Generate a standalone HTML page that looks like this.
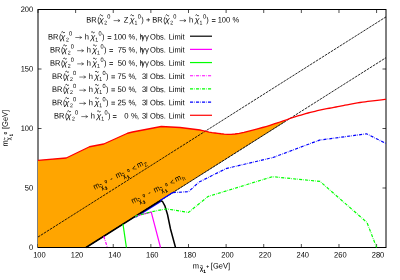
<!DOCTYPE html>
<html><head><meta charset="utf-8"><style>
html,body{margin:0;padding:0;background:#fff;}
body{width:400px;height:280px;position:relative;overflow:hidden;font-family:"Liberation Sans",sans-serif;}
</style></head><body>
<svg width="400" height="280" viewBox="0 0 400 280" font-family="Liberation Sans, sans-serif" style="position:absolute;left:0;top:0;will-change:transform">
<rect x="38.00" y="9.50" width="348.00" height="238.00" fill="none" stroke="#000" stroke-width="1"/>
<line x1="38.00" y1="247.50" x2="38.00" y2="244.00" stroke="#000" stroke-width="0.7"/>
<line x1="38.00" y1="9.50" x2="38.00" y2="13.00" stroke="#000" stroke-width="0.7"/>
<line x1="75.62" y1="247.50" x2="75.62" y2="244.00" stroke="#000" stroke-width="0.7"/>
<line x1="75.62" y1="9.50" x2="75.62" y2="13.00" stroke="#000" stroke-width="0.7"/>
<line x1="113.24" y1="247.50" x2="113.24" y2="244.00" stroke="#000" stroke-width="0.7"/>
<line x1="113.24" y1="9.50" x2="113.24" y2="13.00" stroke="#000" stroke-width="0.7"/>
<line x1="150.86" y1="247.50" x2="150.86" y2="244.00" stroke="#000" stroke-width="0.7"/>
<line x1="150.86" y1="9.50" x2="150.86" y2="13.00" stroke="#000" stroke-width="0.7"/>
<line x1="188.49" y1="247.50" x2="188.49" y2="244.00" stroke="#000" stroke-width="0.7"/>
<line x1="188.49" y1="9.50" x2="188.49" y2="13.00" stroke="#000" stroke-width="0.7"/>
<line x1="226.11" y1="247.50" x2="226.11" y2="244.00" stroke="#000" stroke-width="0.7"/>
<line x1="226.11" y1="9.50" x2="226.11" y2="13.00" stroke="#000" stroke-width="0.7"/>
<line x1="263.73" y1="247.50" x2="263.73" y2="244.00" stroke="#000" stroke-width="0.7"/>
<line x1="263.73" y1="9.50" x2="263.73" y2="13.00" stroke="#000" stroke-width="0.7"/>
<line x1="301.35" y1="247.50" x2="301.35" y2="244.00" stroke="#000" stroke-width="0.7"/>
<line x1="301.35" y1="9.50" x2="301.35" y2="13.00" stroke="#000" stroke-width="0.7"/>
<line x1="338.97" y1="247.50" x2="338.97" y2="244.00" stroke="#000" stroke-width="0.7"/>
<line x1="338.97" y1="9.50" x2="338.97" y2="13.00" stroke="#000" stroke-width="0.7"/>
<line x1="376.59" y1="247.50" x2="376.59" y2="244.00" stroke="#000" stroke-width="0.7"/>
<line x1="376.59" y1="9.50" x2="376.59" y2="13.00" stroke="#000" stroke-width="0.7"/>
<line x1="38.00" y1="247.50" x2="41.50" y2="247.50" stroke="#000" stroke-width="0.7"/>
<line x1="386.00" y1="247.50" x2="382.50" y2="247.50" stroke="#000" stroke-width="0.7"/>
<line x1="38.00" y1="188.00" x2="41.50" y2="188.00" stroke="#000" stroke-width="0.7"/>
<line x1="386.00" y1="188.00" x2="382.50" y2="188.00" stroke="#000" stroke-width="0.7"/>
<line x1="38.00" y1="128.50" x2="41.50" y2="128.50" stroke="#000" stroke-width="0.7"/>
<line x1="386.00" y1="128.50" x2="382.50" y2="128.50" stroke="#000" stroke-width="0.7"/>
<line x1="38.00" y1="69.00" x2="41.50" y2="69.00" stroke="#000" stroke-width="0.7"/>
<line x1="386.00" y1="69.00" x2="382.50" y2="69.00" stroke="#000" stroke-width="0.7"/>
<line x1="38.00" y1="9.50" x2="41.50" y2="9.50" stroke="#000" stroke-width="0.7"/>
<line x1="386.00" y1="9.50" x2="382.50" y2="9.50" stroke="#000" stroke-width="0.7"/>
<polygon points="38.00,247.00 38.00,160.30 66.25,158.00 89.50,146.75 103.75,144.00 127.50,133.25 132.50,132.00 161.25,126.50 180.00,127.50 200.00,130.00 201.57,130.35 203.70,130.85 206.25,131.44 209.07,132.04 212.04,132.58 215.00,133.00 217.96,133.37 221.02,133.76 224.22,134.09 227.59,134.30 231.17,134.29 235.00,134.00 239.27,133.34 243.98,132.35 248.91,131.16 253.80,129.87 258.41,128.61 262.50,127.50 266.04,126.52 269.20,125.57 272.09,124.64 274.80,123.74 277.40,122.86 280.00,122.00 282.54,121.15 284.93,120.33 285.00,121.59 86.77,247.00" fill="#ffa500" stroke="none"/>
<polyline points="85.97,247.50 285.00,121.59" fill="none" stroke="#000" stroke-width="0.4"/>
<polyline points="38.00,237.03 386.00,16.88" fill="none" stroke="#000" stroke-width="0.85" stroke-dasharray="2.6,0.9"/>
<polyline points="85.97,247.50 386.00,57.70" fill="none" stroke="#000" stroke-width="0.85" stroke-dasharray="2.6,0.9"/>
<polyline points="135.50,217.28 160.70,201.34" fill="none" stroke="#00f" stroke-width="1.3"/>
<polyline points="85.97,247.50 160.20,200.54 162.50,201.50 165.00,206.20 167.50,214.50 170.50,229.00 173.75,241.00 175.50,247.50" fill="none" stroke="#000" stroke-width="1.5" stroke-linejoin="round"/>
<polyline points="135.00,216.25 151.25,212.20 160.50,247.50" fill="none" stroke="#f0f" stroke-width="1.2" stroke-linejoin="round"/>
<polyline points="123.00,224.07 126.40,247.50" fill="none" stroke="#0f0" stroke-width="1.2" stroke-linejoin="round"/>
<polyline points="103.75,236.25 107.40,247.50" fill="none" stroke="#f0f" stroke-width="1.2" stroke-dasharray="3.1,1.15,0.6,1.15"/>
<polyline points="135.00,216.25 151.50,211.75 166.50,208.90 188.50,212.40 208.00,196.50 272.50,176.70 320.00,181.40 367.00,222.50 376.60,247.50" fill="none" stroke="#0f0" stroke-width="1.2" stroke-dasharray="3.1,1.15,0.6,1.15"/>
<polyline points="160.20,200.54 172.80,192.57" fill="none" stroke="#00f" stroke-width="1.3"/>
<polyline points="172.80,192.57 188.50,191.70 199.00,182.10 226.00,168.60 273.00,157.50 319.50,140.10 366.60,133.80 385.80,143.40" fill="none" stroke="#00f" stroke-width="1.2" stroke-dasharray="3.1,1.15,0.6,1.15"/>
<polyline points="38.00,160.30 66.25,158.00 89.50,146.75 103.75,144.00 127.50,133.25 132.50,132.00 161.25,126.50 180.00,127.50 200.00,130.00 201.57,130.35 203.70,130.85 206.25,131.44 209.07,132.04 212.04,132.58 215.00,133.00 217.96,133.37 221.02,133.76 224.22,134.09 227.59,134.30 231.17,134.29 235.00,134.00 239.27,133.34 243.98,132.35 248.91,131.16 253.80,129.87 258.41,128.61 262.50,127.50 266.04,126.52 269.20,125.57 272.09,124.64 274.80,123.74 277.40,122.86 280.00,122.00 282.54,121.15 284.93,120.33 287.22,119.52 289.46,118.73 291.71,117.96 294.00,117.20 296.33,116.45 298.67,115.72 301.00,115.01 303.33,114.31 305.67,113.64 308.00,113.00 310.33,112.39 312.67,111.81 315.00,111.26 317.33,110.72 319.67,110.20 322.00,109.70 324.39,109.20 326.85,108.72 329.31,108.26 331.70,107.81 333.96,107.39 336.00,107.00 337.72,106.66 339.15,106.37 340.44,106.10 341.74,105.83 343.21,105.54 345.00,105.20 347.15,104.79 349.56,104.34 352.12,103.86 354.78,103.37 357.43,102.91 360.00,102.50 362.55,102.13 365.15,101.79 367.75,101.46 370.30,101.16 372.73,100.87 375.00,100.60 377.19,100.33 379.37,100.07 381.44,99.83 383.30,99.61 384.85,99.43 386.00,99.30" fill="none" stroke="#f00" stroke-width="1.3" stroke-linejoin="round"/>
<line x1="190" y1="36.20" x2="212" y2="36.20" stroke="#000" stroke-width="1.2" />
<line x1="190" y1="49.38" x2="212" y2="49.38" stroke="#f0f" stroke-width="1.2" />
<line x1="190" y1="62.56" x2="212" y2="62.56" stroke="#0f0" stroke-width="1.2" />
<line x1="190" y1="75.74" x2="212" y2="75.74" stroke="#f0f" stroke-width="1.2" stroke-dasharray="3.1,1.15,0.6,1.15"/>
<line x1="190" y1="88.92" x2="212" y2="88.92" stroke="#0f0" stroke-width="1.2" stroke-dasharray="3.1,1.15,0.6,1.15"/>
<line x1="190" y1="102.10" x2="212" y2="102.10" stroke="#00f" stroke-width="1.2" stroke-dasharray="3.1,1.15,0.6,1.15"/>
<line x1="190" y1="115.28" x2="212" y2="115.28" stroke="#f00" stroke-width="1.2" />
<text transform="translate(86.30 22.50) rotate(0.03) scale(0.940 1)" font-size="8.00" text-anchor="start">BR</text><text transform="translate(97.30 22.50) rotate(0.03) scale(0.940 1)" font-size="8.00" text-anchor="start">(</text><text transform="translate(98.90 22.50) rotate(0.03) scale(1.100 1)" font-size="8.00" font-style="italic">χ</text><path d="M99.70 15.35 q 0.85 -1.30 1.70 0 t 1.70 0" fill="none" stroke="#000" stroke-width="0.80"/><text transform="translate(104.20 24.50) rotate(0.03) scale(0.940 1)" font-size="5.50" text-anchor="start">2</text><text transform="translate(107.20 18.50) rotate(0.03) scale(0.940 1)" font-size="6.00" text-anchor="start">0</text><path d="M113.60 20.60 H120.00 M117.90 19.30 l2.1 1.3 l-2.1 1.3" fill="none" stroke="#111" stroke-width="0.55"/><text transform="translate(123.80 22.50) rotate(0.03) scale(0.940 1)" font-size="8.00" text-anchor="start">Z</text><text transform="translate(129.70 22.50) rotate(0.03) scale(1.100 1)" font-size="8.00" font-style="italic">χ</text><path d="M130.50 15.35 q 0.85 -1.30 1.70 0 t 1.70 0" fill="none" stroke="#000" stroke-width="0.80"/><text transform="translate(134.50 24.50) rotate(0.03) scale(0.940 1)" font-size="5.50" text-anchor="start">1</text><text transform="translate(137.70 18.50) rotate(0.03) scale(0.940 1)" font-size="6.00" text-anchor="start">0</text><text transform="translate(141.30 22.50) rotate(0.03) scale(0.940 1)" font-size="8.00" text-anchor="start">)</text>
<text transform="translate(146.10 22.50) rotate(0.03) scale(0.940 1)" font-size="8.00" text-anchor="start">+</text>
<text transform="translate(152.30 22.50) rotate(0.03) scale(0.940 1)" font-size="8.00" text-anchor="start">BR</text><text transform="translate(163.30 22.50) rotate(0.03) scale(0.940 1)" font-size="8.00" text-anchor="start">(</text><text transform="translate(164.90 22.50) rotate(0.03) scale(1.100 1)" font-size="8.00" font-style="italic">χ</text><path d="M165.70 15.35 q 0.85 -1.30 1.70 0 t 1.70 0" fill="none" stroke="#000" stroke-width="0.80"/><text transform="translate(170.20 24.50) rotate(0.03) scale(0.940 1)" font-size="5.50" text-anchor="start">2</text><text transform="translate(173.20 18.50) rotate(0.03) scale(0.940 1)" font-size="6.00" text-anchor="start">0</text><path d="M179.60 20.60 H186.00 M183.90 19.30 l2.1 1.3 l-2.1 1.3" fill="none" stroke="#111" stroke-width="0.55"/><text transform="translate(189.10 22.50) rotate(0.03) scale(0.940 1)" font-size="8.00" text-anchor="start">h</text><text transform="translate(194.70 22.50) rotate(0.03) scale(1.100 1)" font-size="8.00" font-style="italic">χ</text><path d="M195.50 15.35 q 0.85 -1.30 1.70 0 t 1.70 0" fill="none" stroke="#000" stroke-width="0.80"/><text transform="translate(199.50 24.50) rotate(0.03) scale(0.940 1)" font-size="5.50" text-anchor="start">1</text><text transform="translate(202.90 18.50) rotate(0.03) scale(0.940 1)" font-size="6.00" text-anchor="start">0</text><text transform="translate(206.30 22.50) rotate(0.03) scale(0.940 1)" font-size="8.00" text-anchor="start">)</text>
<text transform="translate(211.50 23.00) rotate(0.03) scale(0.940 1)" font-size="8.00" text-anchor="start">=</text>
<text transform="translate(217.70 22.50) rotate(0.03) scale(0.940 1)" font-size="8.00" text-anchor="start">100</text>
<text transform="translate(232.50 22.50) rotate(0.03) scale(0.940 1)" font-size="8.00" text-anchor="start">%</text>
<text transform="translate(48.00 39.40) rotate(0.03) scale(0.940 1)" font-size="8.00" text-anchor="start">BR</text><text transform="translate(59.00 39.40) rotate(0.03) scale(0.940 1)" font-size="8.00" text-anchor="start">(</text><text transform="translate(60.60 39.40) rotate(0.03) scale(1.100 1)" font-size="8.00" font-style="italic">χ</text><path d="M61.40 32.25 q 0.85 -1.30 1.70 0 t 1.70 0" fill="none" stroke="#000" stroke-width="0.80"/><text transform="translate(65.90 41.40) rotate(0.03) scale(0.940 1)" font-size="5.50" text-anchor="start">2</text><text transform="translate(68.90 35.40) rotate(0.03) scale(0.940 1)" font-size="6.00" text-anchor="start">0</text><path d="M75.30 37.50 H81.70 M79.60 36.20 l2.1 1.3 l-2.1 1.3" fill="none" stroke="#111" stroke-width="0.55"/><text transform="translate(84.80 39.40) rotate(0.03) scale(0.940 1)" font-size="8.00" text-anchor="start">h</text><text transform="translate(90.40 39.40) rotate(0.03) scale(1.100 1)" font-size="8.00" font-style="italic">χ</text><path d="M91.20 32.25 q 0.85 -1.30 1.70 0 t 1.70 0" fill="none" stroke="#000" stroke-width="0.80"/><text transform="translate(95.20 41.40) rotate(0.03) scale(0.940 1)" font-size="5.50" text-anchor="start">1</text><text transform="translate(98.60 35.40) rotate(0.03) scale(0.940 1)" font-size="6.00" text-anchor="start">0</text><text transform="translate(102.00 39.40) rotate(0.03) scale(0.940 1)" font-size="8.00" text-anchor="start">)</text>
<text transform="translate(107.20 39.90) rotate(0.03) scale(0.940 1)" font-size="8.00" text-anchor="start">=</text>
<text transform="translate(113.50 39.40) rotate(0.03) scale(0.960 1)" font-size="8.00" text-anchor="start">100</text>
<text transform="translate(128.50 39.40) rotate(0.03) scale(0.940 1)" font-size="8.00" text-anchor="start">%</text>
<text transform="translate(135.30 39.40) rotate(0.03) scale(0.940 1)" font-size="8.00" text-anchor="start">,</text>
<text transform="translate(139.60 39.40) rotate(0.03) scale(0.940 1)" font-size="8.00" text-anchor="start">h</text>
<text transform="translate(141.10 39.40) rotate(0.03) scale(0.980 1)" font-size="8.00" text-anchor="start">γγ</text>
<text transform="translate(150.10 39.40) rotate(0.03) scale(0.940 1)" font-size="8.00" text-anchor="start">Obs.</text>
<text transform="translate(168.70 39.40) rotate(0.03) scale(0.940 1)" font-size="8.00" text-anchor="start">Limit</text>
<text transform="translate(49.90 52.58) rotate(0.03) scale(0.940 1)" font-size="8.00" text-anchor="start">BR</text><text transform="translate(60.90 52.58) rotate(0.03) scale(0.940 1)" font-size="8.00" text-anchor="start">(</text><text transform="translate(62.50 52.58) rotate(0.03) scale(1.100 1)" font-size="8.00" font-style="italic">χ</text><path d="M63.30 45.43 q 0.85 -1.30 1.70 0 t 1.70 0" fill="none" stroke="#000" stroke-width="0.80"/><text transform="translate(67.80 54.58) rotate(0.03) scale(0.940 1)" font-size="5.50" text-anchor="start">2</text><text transform="translate(70.80 48.58) rotate(0.03) scale(0.940 1)" font-size="6.00" text-anchor="start">0</text><path d="M77.20 50.68 H83.60 M81.50 49.38 l2.1 1.3 l-2.1 1.3" fill="none" stroke="#111" stroke-width="0.55"/><text transform="translate(86.70 52.58) rotate(0.03) scale(0.940 1)" font-size="8.00" text-anchor="start">h</text><text transform="translate(92.30 52.58) rotate(0.03) scale(1.100 1)" font-size="8.00" font-style="italic">χ</text><path d="M93.10 45.43 q 0.85 -1.30 1.70 0 t 1.70 0" fill="none" stroke="#000" stroke-width="0.80"/><text transform="translate(97.10 54.58) rotate(0.03) scale(0.940 1)" font-size="5.50" text-anchor="start">1</text><text transform="translate(100.50 48.58) rotate(0.03) scale(0.940 1)" font-size="6.00" text-anchor="start">0</text><text transform="translate(103.90 52.58) rotate(0.03) scale(0.940 1)" font-size="8.00" text-anchor="start">)</text>
<text transform="translate(109.10 53.08) rotate(0.03) scale(0.940 1)" font-size="8.00" text-anchor="start">=</text>
<text transform="translate(117.70 52.58) rotate(0.03) scale(0.960 1)" font-size="8.00" text-anchor="start">75</text>
<text transform="translate(128.50 52.58) rotate(0.03) scale(0.940 1)" font-size="8.00" text-anchor="start">%</text>
<text transform="translate(135.30 52.58) rotate(0.03) scale(0.940 1)" font-size="8.00" text-anchor="start">,</text>
<text transform="translate(139.60 52.58) rotate(0.03) scale(0.940 1)" font-size="8.00" text-anchor="start">h</text>
<text transform="translate(141.10 52.58) rotate(0.03) scale(0.980 1)" font-size="8.00" text-anchor="start">γγ</text>
<text transform="translate(150.10 52.58) rotate(0.03) scale(0.940 1)" font-size="8.00" text-anchor="start">Obs.</text>
<text transform="translate(168.70 52.58) rotate(0.03) scale(0.940 1)" font-size="8.00" text-anchor="start">Limit</text>
<text transform="translate(49.90 65.76) rotate(0.03) scale(0.940 1)" font-size="8.00" text-anchor="start">BR</text><text transform="translate(60.90 65.76) rotate(0.03) scale(0.940 1)" font-size="8.00" text-anchor="start">(</text><text transform="translate(62.50 65.76) rotate(0.03) scale(1.100 1)" font-size="8.00" font-style="italic">χ</text><path d="M63.30 58.61 q 0.85 -1.30 1.70 0 t 1.70 0" fill="none" stroke="#000" stroke-width="0.80"/><text transform="translate(67.80 67.76) rotate(0.03) scale(0.940 1)" font-size="5.50" text-anchor="start">2</text><text transform="translate(70.80 61.76) rotate(0.03) scale(0.940 1)" font-size="6.00" text-anchor="start">0</text><path d="M77.20 63.86 H83.60 M81.50 62.56 l2.1 1.3 l-2.1 1.3" fill="none" stroke="#111" stroke-width="0.55"/><text transform="translate(86.70 65.76) rotate(0.03) scale(0.940 1)" font-size="8.00" text-anchor="start">h</text><text transform="translate(92.30 65.76) rotate(0.03) scale(1.100 1)" font-size="8.00" font-style="italic">χ</text><path d="M93.10 58.61 q 0.85 -1.30 1.70 0 t 1.70 0" fill="none" stroke="#000" stroke-width="0.80"/><text transform="translate(97.10 67.76) rotate(0.03) scale(0.940 1)" font-size="5.50" text-anchor="start">1</text><text transform="translate(100.50 61.76) rotate(0.03) scale(0.940 1)" font-size="6.00" text-anchor="start">0</text><text transform="translate(103.90 65.76) rotate(0.03) scale(0.940 1)" font-size="8.00" text-anchor="start">)</text>
<text transform="translate(109.10 66.26) rotate(0.03) scale(0.940 1)" font-size="8.00" text-anchor="start">=</text>
<text transform="translate(117.70 65.76) rotate(0.03) scale(0.960 1)" font-size="8.00" text-anchor="start">50</text>
<text transform="translate(128.50 65.76) rotate(0.03) scale(0.940 1)" font-size="8.00" text-anchor="start">%</text>
<text transform="translate(135.30 65.76) rotate(0.03) scale(0.940 1)" font-size="8.00" text-anchor="start">,</text>
<text transform="translate(139.60 65.76) rotate(0.03) scale(0.940 1)" font-size="8.00" text-anchor="start">h</text>
<text transform="translate(141.10 65.76) rotate(0.03) scale(0.980 1)" font-size="8.00" text-anchor="start">γγ</text>
<text transform="translate(150.10 65.76) rotate(0.03) scale(0.940 1)" font-size="8.00" text-anchor="start">Obs.</text>
<text transform="translate(168.70 65.76) rotate(0.03) scale(0.940 1)" font-size="8.00" text-anchor="start">Limit</text>
<text transform="translate(52.00 78.94) rotate(0.03) scale(0.940 1)" font-size="8.00" text-anchor="start">BR</text><text transform="translate(63.00 78.94) rotate(0.03) scale(0.940 1)" font-size="8.00" text-anchor="start">(</text><text transform="translate(64.60 78.94) rotate(0.03) scale(1.100 1)" font-size="8.00" font-style="italic">χ</text><path d="M65.40 71.79 q 0.85 -1.30 1.70 0 t 1.70 0" fill="none" stroke="#000" stroke-width="0.80"/><text transform="translate(69.90 80.94) rotate(0.03) scale(0.940 1)" font-size="5.50" text-anchor="start">2</text><text transform="translate(72.90 74.94) rotate(0.03) scale(0.940 1)" font-size="6.00" text-anchor="start">0</text><path d="M79.30 77.04 H85.70 M83.60 75.74 l2.1 1.3 l-2.1 1.3" fill="none" stroke="#111" stroke-width="0.55"/><text transform="translate(88.80 78.94) rotate(0.03) scale(0.940 1)" font-size="8.00" text-anchor="start">h</text><text transform="translate(94.40 78.94) rotate(0.03) scale(1.100 1)" font-size="8.00" font-style="italic">χ</text><path d="M95.20 71.79 q 0.85 -1.30 1.70 0 t 1.70 0" fill="none" stroke="#000" stroke-width="0.80"/><text transform="translate(99.20 80.94) rotate(0.03) scale(0.940 1)" font-size="5.50" text-anchor="start">1</text><text transform="translate(102.60 74.94) rotate(0.03) scale(0.940 1)" font-size="6.00" text-anchor="start">0</text><text transform="translate(106.00 78.94) rotate(0.03) scale(0.940 1)" font-size="8.00" text-anchor="start">)</text>
<text transform="translate(111.00 79.44) rotate(0.03) scale(0.940 1)" font-size="8.00" text-anchor="start">=</text>
<text transform="translate(117.50 78.94) rotate(0.03) scale(0.960 1)" font-size="8.00" text-anchor="start">75</text>
<text transform="translate(128.50 78.94) rotate(0.03) scale(0.940 1)" font-size="8.00" text-anchor="start">%</text>
<text transform="translate(134.80 78.94) rotate(0.03) scale(0.940 1)" font-size="8.00" text-anchor="start">,</text>
<text transform="translate(141.90 78.94) rotate(0.03) scale(0.940 1)" font-size="8.00" text-anchor="start">3l</text>
<text transform="translate(150.10 78.94) rotate(0.03) scale(0.940 1)" font-size="8.00" text-anchor="start">Obs.</text>
<text transform="translate(168.70 78.94) rotate(0.03) scale(0.940 1)" font-size="8.00" text-anchor="start">Limit</text>
<text transform="translate(52.00 92.12) rotate(0.03) scale(0.940 1)" font-size="8.00" text-anchor="start">BR</text><text transform="translate(63.00 92.12) rotate(0.03) scale(0.940 1)" font-size="8.00" text-anchor="start">(</text><text transform="translate(64.60 92.12) rotate(0.03) scale(1.100 1)" font-size="8.00" font-style="italic">χ</text><path d="M65.40 84.97 q 0.85 -1.30 1.70 0 t 1.70 0" fill="none" stroke="#000" stroke-width="0.80"/><text transform="translate(69.90 94.12) rotate(0.03) scale(0.940 1)" font-size="5.50" text-anchor="start">2</text><text transform="translate(72.90 88.12) rotate(0.03) scale(0.940 1)" font-size="6.00" text-anchor="start">0</text><path d="M79.30 90.22 H85.70 M83.60 88.92 l2.1 1.3 l-2.1 1.3" fill="none" stroke="#111" stroke-width="0.55"/><text transform="translate(88.80 92.12) rotate(0.03) scale(0.940 1)" font-size="8.00" text-anchor="start">h</text><text transform="translate(94.40 92.12) rotate(0.03) scale(1.100 1)" font-size="8.00" font-style="italic">χ</text><path d="M95.20 84.97 q 0.85 -1.30 1.70 0 t 1.70 0" fill="none" stroke="#000" stroke-width="0.80"/><text transform="translate(99.20 94.12) rotate(0.03) scale(0.940 1)" font-size="5.50" text-anchor="start">1</text><text transform="translate(102.60 88.12) rotate(0.03) scale(0.940 1)" font-size="6.00" text-anchor="start">0</text><text transform="translate(106.00 92.12) rotate(0.03) scale(0.940 1)" font-size="8.00" text-anchor="start">)</text>
<text transform="translate(111.00 92.62) rotate(0.03) scale(0.940 1)" font-size="8.00" text-anchor="start">=</text>
<text transform="translate(117.50 92.12) rotate(0.03) scale(0.960 1)" font-size="8.00" text-anchor="start">50</text>
<text transform="translate(128.50 92.12) rotate(0.03) scale(0.940 1)" font-size="8.00" text-anchor="start">%</text>
<text transform="translate(134.80 92.12) rotate(0.03) scale(0.940 1)" font-size="8.00" text-anchor="start">,</text>
<text transform="translate(141.90 92.12) rotate(0.03) scale(0.940 1)" font-size="8.00" text-anchor="start">3l</text>
<text transform="translate(150.10 92.12) rotate(0.03) scale(0.940 1)" font-size="8.00" text-anchor="start">Obs.</text>
<text transform="translate(168.70 92.12) rotate(0.03) scale(0.940 1)" font-size="8.00" text-anchor="start">Limit</text>
<text transform="translate(52.00 105.30) rotate(0.03) scale(0.940 1)" font-size="8.00" text-anchor="start">BR</text><text transform="translate(63.00 105.30) rotate(0.03) scale(0.940 1)" font-size="8.00" text-anchor="start">(</text><text transform="translate(64.60 105.30) rotate(0.03) scale(1.100 1)" font-size="8.00" font-style="italic">χ</text><path d="M65.40 98.15 q 0.85 -1.30 1.70 0 t 1.70 0" fill="none" stroke="#000" stroke-width="0.80"/><text transform="translate(69.90 107.30) rotate(0.03) scale(0.940 1)" font-size="5.50" text-anchor="start">2</text><text transform="translate(72.90 101.30) rotate(0.03) scale(0.940 1)" font-size="6.00" text-anchor="start">0</text><path d="M79.30 103.40 H85.70 M83.60 102.10 l2.1 1.3 l-2.1 1.3" fill="none" stroke="#111" stroke-width="0.55"/><text transform="translate(88.80 105.30) rotate(0.03) scale(0.940 1)" font-size="8.00" text-anchor="start">h</text><text transform="translate(94.40 105.30) rotate(0.03) scale(1.100 1)" font-size="8.00" font-style="italic">χ</text><path d="M95.20 98.15 q 0.85 -1.30 1.70 0 t 1.70 0" fill="none" stroke="#000" stroke-width="0.80"/><text transform="translate(99.20 107.30) rotate(0.03) scale(0.940 1)" font-size="5.50" text-anchor="start">1</text><text transform="translate(102.60 101.30) rotate(0.03) scale(0.940 1)" font-size="6.00" text-anchor="start">0</text><text transform="translate(106.00 105.30) rotate(0.03) scale(0.940 1)" font-size="8.00" text-anchor="start">)</text>
<text transform="translate(111.00 105.80) rotate(0.03) scale(0.940 1)" font-size="8.00" text-anchor="start">=</text>
<text transform="translate(117.50 105.30) rotate(0.03) scale(0.960 1)" font-size="8.00" text-anchor="start">25</text>
<text transform="translate(128.50 105.30) rotate(0.03) scale(0.940 1)" font-size="8.00" text-anchor="start">%</text>
<text transform="translate(134.80 105.30) rotate(0.03) scale(0.940 1)" font-size="8.00" text-anchor="start">,</text>
<text transform="translate(141.90 105.30) rotate(0.03) scale(0.940 1)" font-size="8.00" text-anchor="start">3l</text>
<text transform="translate(150.10 105.30) rotate(0.03) scale(0.940 1)" font-size="8.00" text-anchor="start">Obs.</text>
<text transform="translate(168.70 105.30) rotate(0.03) scale(0.940 1)" font-size="8.00" text-anchor="start">Limit</text>
<text transform="translate(54.00 118.48) rotate(0.03) scale(0.940 1)" font-size="8.00" text-anchor="start">BR</text><text transform="translate(65.00 118.48) rotate(0.03) scale(0.940 1)" font-size="8.00" text-anchor="start">(</text><text transform="translate(66.60 118.48) rotate(0.03) scale(1.100 1)" font-size="8.00" font-style="italic">χ</text><path d="M67.40 111.33 q 0.85 -1.30 1.70 0 t 1.70 0" fill="none" stroke="#000" stroke-width="0.80"/><text transform="translate(71.90 120.48) rotate(0.03) scale(0.940 1)" font-size="5.50" text-anchor="start">2</text><text transform="translate(74.90 114.48) rotate(0.03) scale(0.940 1)" font-size="6.00" text-anchor="start">0</text><path d="M81.30 116.58 H87.70 M85.60 115.28 l2.1 1.3 l-2.1 1.3" fill="none" stroke="#111" stroke-width="0.55"/><text transform="translate(90.80 118.48) rotate(0.03) scale(0.940 1)" font-size="8.00" text-anchor="start">h</text><text transform="translate(96.40 118.48) rotate(0.03) scale(1.100 1)" font-size="8.00" font-style="italic">χ</text><path d="M97.20 111.33 q 0.85 -1.30 1.70 0 t 1.70 0" fill="none" stroke="#000" stroke-width="0.80"/><text transform="translate(101.20 120.48) rotate(0.03) scale(0.940 1)" font-size="5.50" text-anchor="start">1</text><text transform="translate(104.60 114.48) rotate(0.03) scale(0.940 1)" font-size="6.00" text-anchor="start">0</text><text transform="translate(108.00 118.48) rotate(0.03) scale(0.940 1)" font-size="8.00" text-anchor="start">)</text>
<text transform="translate(112.50 118.98) rotate(0.03) scale(0.940 1)" font-size="8.00" text-anchor="start">=</text>
<text transform="translate(124.20 118.48) rotate(0.03) scale(0.960 1)" font-size="8.00" text-anchor="start">0</text>
<text transform="translate(130.90 118.48) rotate(0.03) scale(0.940 1)" font-size="8.00" text-anchor="start">%</text>
<text transform="translate(136.90 118.48) rotate(0.03) scale(0.940 1)" font-size="8.00" text-anchor="start">,</text>
<text transform="translate(141.90 118.48) rotate(0.03) scale(0.940 1)" font-size="8.00" text-anchor="start">3l</text>
<text transform="translate(150.10 118.48) rotate(0.03) scale(0.940 1)" font-size="8.00" text-anchor="start">Obs.</text>
<text transform="translate(168.70 118.48) rotate(0.03) scale(0.940 1)" font-size="8.00" text-anchor="start">Limit</text>
<text transform="translate(39.40 257.50) rotate(0.03) scale(0.940 1)" font-size="8.00" text-anchor="middle">100</text>
<text transform="translate(77.02 257.50) rotate(0.03) scale(0.940 1)" font-size="8.00" text-anchor="middle">120</text>
<text transform="translate(114.64 257.50) rotate(0.03) scale(0.940 1)" font-size="8.00" text-anchor="middle">140</text>
<text transform="translate(152.26 257.50) rotate(0.03) scale(0.940 1)" font-size="8.00" text-anchor="middle">160</text>
<text transform="translate(189.89 257.50) rotate(0.03) scale(0.940 1)" font-size="8.00" text-anchor="middle">180</text>
<text transform="translate(227.51 257.50) rotate(0.03) scale(0.940 1)" font-size="8.00" text-anchor="middle">200</text>
<text transform="translate(265.13 257.50) rotate(0.03) scale(0.940 1)" font-size="8.00" text-anchor="middle">220</text>
<text transform="translate(302.75 257.50) rotate(0.03) scale(0.940 1)" font-size="8.00" text-anchor="middle">240</text>
<text transform="translate(340.37 257.50) rotate(0.03) scale(0.940 1)" font-size="8.00" text-anchor="middle">260</text>
<text transform="translate(377.99 257.50) rotate(0.03) scale(0.940 1)" font-size="8.00" text-anchor="middle">280</text>
<text transform="translate(33.20 249.90) rotate(0.03) scale(0.940 1)" font-size="8.00" text-anchor="end">0</text>
<text transform="translate(33.20 190.40) rotate(0.03) scale(0.940 1)" font-size="8.00" text-anchor="end">50</text>
<text transform="translate(33.20 130.90) rotate(0.03) scale(0.940 1)" font-size="8.00" text-anchor="end">100</text>
<text transform="translate(33.20 71.40) rotate(0.03) scale(0.940 1)" font-size="8.00" text-anchor="end">150</text>
<text transform="translate(33.20 11.90) rotate(0.03) scale(0.940 1)" font-size="8.00" text-anchor="end">200</text>
<g transform="translate(193.2 268.5)"><text transform="translate(-0.40 0.00) rotate(0.03) scale(0.940 1)" font-size="8.00" text-anchor="start">m</text><text transform="translate(6.80 2.10) rotate(0.03) scale(0.940 1)" font-size="6.20" stroke="#000" stroke-width="0.20">χ</text><path d="M7.25 -2.75 q 0.62 -0.60 1.25 0 t 1.25 0" fill="none" stroke="#000" stroke-width="0.70"/><text transform="translate(10.30 4.30) rotate(0.03) scale(0.940 1)" font-size="4.10" stroke="#000" stroke-width="0.30">1</text><text transform="translate(13.30 -0.40) rotate(0.03) scale(0.940 1)" font-size="4.20" stroke="#000" stroke-width="0.25">+</text><text transform="translate(17.60 0.00) rotate(0.03) scale(0.940 1)" font-size="8.00" text-anchor="start">[GeV]</text></g>
<g transform="translate(7.8 146.2) rotate(-90)"><text transform="translate(-0.40 0.00) rotate(0.03) scale(0.940 1)" font-size="8.00" text-anchor="start">m</text><text transform="translate(6.00 2.60) rotate(0.03) scale(0.940 1)" font-size="5.80" stroke="#000" stroke-width="0.15">χ</text><path d="M6.40 -3.25 q 0.55 -0.60 1.10 0 t 1.10 0" fill="none" stroke="#000" stroke-width="0.80"/><text transform="translate(10.00 4.70) rotate(0.03) scale(0.940 1)" font-size="4.10" stroke="#000" stroke-width="0.30">1</text><text transform="translate(12.00 -0.70) rotate(0.03) scale(0.940 1)" font-size="4.30" stroke="#000" stroke-width="0.12">0</text><text transform="translate(17.20 0.00) rotate(0.03) scale(0.940 1)" font-size="8.00" text-anchor="start">[GeV]</text></g>
<g transform="translate(95.20 189.50) rotate(-26.6)"><text transform="translate(-0.40 0.00) rotate(0.03) scale(0.940 1)" font-size="8.00" text-anchor="start">m</text><text transform="translate(5.60 2.80) rotate(0.03) scale(0.940 1)" font-size="5.60" stroke="#000" stroke-width="0.15">χ</text><path d="M6.00 -2.05 q 0.55 -0.60 1.10 0 t 1.10 0" fill="none" stroke="#000" stroke-width="0.70"/><text transform="translate(9.30 4.80) rotate(0.03) scale(0.940 1)" font-size="4.00" stroke="#000" stroke-width="0.30">2</text><text transform="translate(12.00 -0.70) rotate(0.03) scale(0.940 1)" font-size="4.30" stroke="#000" stroke-width="0.12">0</text><text transform="translate(18.00 0.00) rotate(0.03) scale(0.940 1)" font-size="8.00" text-anchor="start">-</text><text transform="translate(24.50 0.00) rotate(0.03) scale(0.940 1)" font-size="8.00" text-anchor="start">m</text><text transform="translate(30.50 2.80) rotate(0.03) scale(0.940 1)" font-size="5.60" stroke="#000" stroke-width="0.15">χ</text><path d="M30.90 -2.05 q 0.55 -0.60 1.10 0 t 1.10 0" fill="none" stroke="#000" stroke-width="0.70"/><text transform="translate(34.20 4.80) rotate(0.03) scale(0.940 1)" font-size="4.00" stroke="#000" stroke-width="0.30">1</text><text transform="translate(36.90 -0.70) rotate(0.03) scale(0.940 1)" font-size="4.30" stroke="#000" stroke-width="0.12">0</text><text transform="translate(42.30 1.00) rotate(0.03) scale(0.940 1)" font-size="8.00" text-anchor="start">&lt;</text><text transform="translate(48.10 0.00) rotate(0.03) scale(0.940 1)" font-size="8.00" text-anchor="start">m</text><text transform="translate(54.80 2.30) rotate(0.03) scale(0.940 1)" font-size="5.80" text-anchor="start">Z</text></g>
<g transform="translate(133.20 203.60) rotate(-26.6)"><text transform="translate(-0.40 0.00) rotate(0.03) scale(0.940 1)" font-size="8.00" text-anchor="start">m</text><text transform="translate(5.60 2.80) rotate(0.03) scale(0.940 1)" font-size="5.60" stroke="#000" stroke-width="0.15">χ</text><path d="M6.00 -2.05 q 0.55 -0.60 1.10 0 t 1.10 0" fill="none" stroke="#000" stroke-width="0.70"/><text transform="translate(9.30 4.80) rotate(0.03) scale(0.940 1)" font-size="4.00" stroke="#000" stroke-width="0.30">2</text><text transform="translate(12.00 -0.70) rotate(0.03) scale(0.940 1)" font-size="4.30" stroke="#000" stroke-width="0.12">0</text><text transform="translate(18.00 0.00) rotate(0.03) scale(0.940 1)" font-size="8.00" text-anchor="start">-</text><text transform="translate(24.50 0.00) rotate(0.03) scale(0.940 1)" font-size="8.00" text-anchor="start">m</text><text transform="translate(30.50 2.80) rotate(0.03) scale(0.940 1)" font-size="5.60" stroke="#000" stroke-width="0.15">χ</text><path d="M30.90 -2.05 q 0.55 -0.60 1.10 0 t 1.10 0" fill="none" stroke="#000" stroke-width="0.70"/><text transform="translate(34.20 4.80) rotate(0.03) scale(0.940 1)" font-size="4.00" stroke="#000" stroke-width="0.30">1</text><text transform="translate(36.90 -0.70) rotate(0.03) scale(0.940 1)" font-size="4.30" stroke="#000" stroke-width="0.12">0</text><text transform="translate(42.30 1.00) rotate(0.03) scale(0.940 1)" font-size="8.00" text-anchor="start">&lt;</text><text transform="translate(48.10 0.00) rotate(0.03) scale(0.940 1)" font-size="8.00" text-anchor="start">m</text><text transform="translate(54.80 2.30) rotate(0.03) scale(0.940 1)" font-size="5.80" text-anchor="start">h</text></g>
</svg>
</body></html>
